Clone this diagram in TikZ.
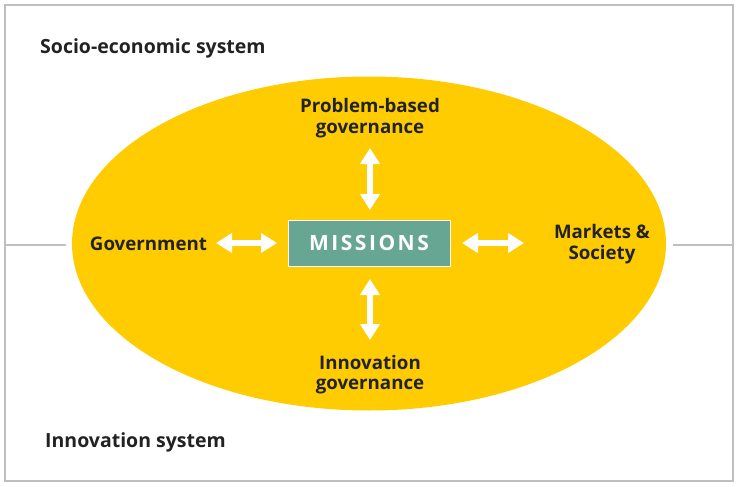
\documentclass[tikz,border=0pt]{standalone}
\usepackage{fontspec}
\setmainfont{Open Sans}
\usetikzlibrary{arrows.meta}
\definecolor{ylw}{HTML}{FECC00}
\definecolor{grn}{HTML}{66A693}
\definecolor{frame}{HTML}{BFBFBF}
\definecolor{ink}{HTML}{222222}
\tikzset{
  lbl/.style={font=\bfseries\fontsize{18.7}{20.5}\selectfont, text=ink, align=center, inner sep=0pt},
  syslbl/.style={font=\bfseries\fontsize{19.5}{22}\selectfont, text=ink, anchor=west, inner sep=0pt},
  dbl/.style={white, line width=6pt, {Triangle[width=19pt,length=16pt]}-{Triangle[width=19pt,length=16pt]}},
}
\begin{document}
\begin{tikzpicture}[x=1pt,y=-1pt]
\useasboundingbox (0,0) rectangle (740,487);
\draw[frame, line width=2.6pt] (5,5) rectangle (733,481);
\draw[frame, line width=2.6pt] (5,245) -- (66,245);
\draw[frame, line width=2.6pt] (673,245) -- (733,245);
\fill[ylw] (369,243.5) ellipse [x radius=297, y radius=167];
\node[syslbl] (soc) at (40,48) {Socio-economic system};
\node[syslbl] (inn) at (45,442) {Innovation system};
\node[draw=white, line width=1pt, fill=grn, minimum width=162pt, minimum height=46pt, inner sep=0pt,
  text=white, font=\bfseries\fontsize{21}{24}\selectfont\addfontfeature{LetterSpace=12}] (miss) at (369,243) {MISSIONS};
\node[lbl] (prob) at (370,118) {Problem-based\\governance};
\node[lbl] (ig) at (370,374.5) {Innovation\\governance};
\node[lbl] (gov) at (148.5,243.5) {Government};
\node[lbl] (mkt) at (602,244) {Markets \&\\Society};
\coordinate (up1) at (370,148);
\coordinate (up2) at (370,210);
\coordinate (dn1) at (370,279);
\coordinate (dn2) at (370,340);
\coordinate (lf1) at (216,243);
\coordinate (lf2) at (277,243);
\coordinate (rt1) at (462,243);
\coordinate (rt2) at (524,243);
\draw[dbl] (up1) -- (up2);
\draw[dbl] (dn1) -- (dn2);
\draw[dbl] (lf1) -- (lf2);
\draw[dbl] (rt1) -- (rt2);
\end{tikzpicture}
\end{document}
